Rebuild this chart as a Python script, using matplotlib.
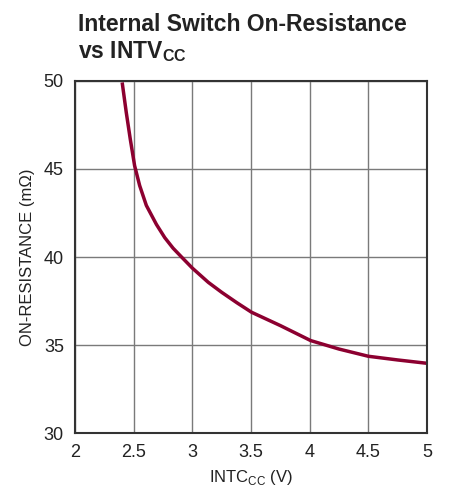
import matplotlib.pyplot as plt
from matplotlib import font_manager

# fonte condensada se existir
nomes = {f.name for f in font_manager.fontManager.ttflist}
fonte = 'Liberation Sans Narrow' if 'Liberation Sans Narrow' in nomes else 'Liberation Sans'
plt.rcParams['font.family'] = [fonte, 'DejaVu Sans']

# Dados
intvcc = [2.402, 2.437, 2.471, 2.508, 2.551, 2.608, 2.694, 2.765, 2.836, 2.908, 3.0,
          3.136, 3.251, 3.38, 3.505, 3.751, 4.009, 4.25, 4.5, 4.75, 5.0]
resistencia = [49.92, 48.21, 46.70, 45.19, 44.06, 42.93, 41.85, 41.1, 40.5, 40.0, 39.37,
               38.56, 37.99, 37.4, 36.86, 36.1, 35.25, 34.77, 34.36, 34.15, 33.96]

x_ticks = [2, 2.5, 3, 3.5, 4, 4.5, 5]
x_tick_labels = ['2', '2.5', '3', '3.5', '4', '4.5', '5']
y_ticks = [30, 35, 40, 45, 50]

fig = plt.figure(figsize=(4.51, 4.87), dpi=100)
ax = fig.add_axes([75 / 451, 1 - 433 / 487, 352 / 451, 352 / 487])

ax.plot(intvcc, resistencia, color='#8c0030', linewidth=2.5,
        solid_capstyle='butt', solid_joinstyle='round')

ax.set_xlim(2, 5)
ax.set_ylim(30, 50)
ax.set_xticks(x_ticks)
ax.set_xticklabels(x_tick_labels)
ax.set_yticks(y_ticks)
ax.tick_params(length=0, labelsize=13, pad=8, colors='#222222')
ax.grid(True, color='#7a7a7a', linewidth=1.0)
for s in ax.spines.values():
    s.set_color('#333333')
    s.set_linewidth(1.5)

ax.set_xlabel('INTC$_{\\mathregular{CC}}$ (V)', fontsize=12, color='#222222', labelpad=5)
ax.set_ylabel('ON-RESISTANCE (m\u03a9)', fontsize=12, color='#222222', labelpad=6)

fig.text(78 / 451, 1 - 31 / 487, 'Internal Switch On-Resistance', fontsize=16.5,
         fontweight='bold', color='#222222', ha='left', va='baseline')
fig.text(78 / 451, 1 - 58 / 487, 'vs INTV$_{\\mathregular{CC}}$', fontsize=16.5,
         fontweight='bold', color='#222222', ha='left', va='baseline')

fig.savefig('out.png', dpi=100)
